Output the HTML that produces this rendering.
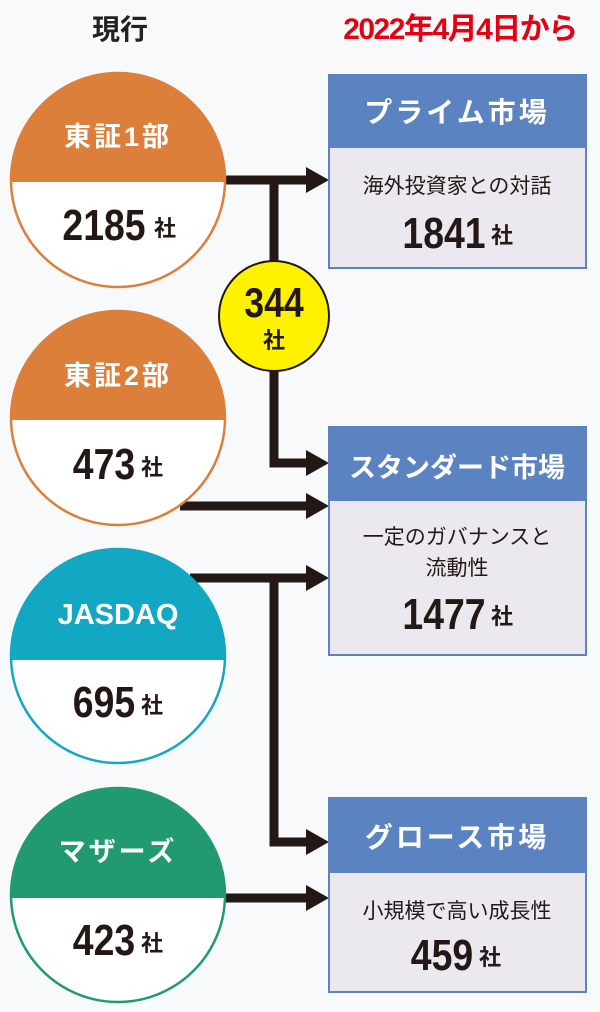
<!DOCTYPE html>
<html><head><meta charset="utf-8"><style>
html,body{margin:0;padding:0;background:#f8f9fb;}
svg{display:block;}
text{font-family:"Liberation Sans","Noto Sans CJK JP",sans-serif;}
</style></head><body>
<svg width="600" height="1012" viewBox="0 0 600 1012" xmlns="http://www.w3.org/2000/svg">
<defs>
<clipPath id="c1"><circle cx="118" cy="180" r="108"/></clipPath>
<clipPath id="c2"><circle cx="118" cy="418" r="108"/></clipPath>
<clipPath id="c3"><circle cx="118" cy="656" r="108"/></clipPath>
<clipPath id="c4"><circle cx="118" cy="895" r="108"/></clipPath>
</defs>
<rect width="600" height="1012" fill="#f8f9fb"/>
<text x="120" y="39" font-size="28" font-weight="bold" fill="#222" text-anchor="middle">現行</text>
<text x="460" y="39" font-size="30" font-weight="bold" fill="#e50012" text-anchor="middle" letter-spacing="-1.5">2022年4月4日から</text>

<g fill="none" stroke="#231815" stroke-width="9">
<line x1="225" y1="180" x2="310" y2="180"/>
<line x1="274" y1="180" x2="274" y2="262"/>
<polyline points="274,370 274,463 310,463"/>
<line x1="180" y1="506" x2="310" y2="506"/>
<line x1="190" y1="578" x2="310" y2="578"/>
<polyline points="274,578 274,842 310,842"/>
<line x1="225" y1="898" x2="310" y2="898"/>
</g>
<g fill="#231815">
<polygon points="306,167 329,180 306,193"/>
<polygon points="306,450 329,463 306,476"/>
<polygon points="306,493 329,506 306,519"/>
<polygon points="306,565 329,578 306,591"/>
<polygon points="306,829 329,842 306,855"/>
<polygon points="306,885 329,898 306,911"/>
</g>

<g clip-path="url(#c1)"><rect x="0" y="60" width="240" height="122" fill="#dc7f3b"/><rect x="0" y="182" width="240" height="120" fill="#fff"/></g>
<circle cx="118" cy="180" r="107" fill="none" stroke="#dc7f3b" stroke-width="2.5"/>
<text x="118" y="146" font-size="27" font-weight="bold" fill="#fff" text-anchor="middle" letter-spacing="3">東証1部</text>
<text x="104" y="240" font-size="44" font-weight="bold" fill="#231815" text-anchor="middle" transform="translate(104 0) scale(0.85 1) translate(-104 0)">2185</text>
<text x="165" y="236" font-size="22" font-weight="bold" fill="#231815" text-anchor="middle">社</text>

<g clip-path="url(#c2)"><rect x="0" y="300" width="240" height="120" fill="#dc7f3b"/><rect x="0" y="420" width="240" height="120" fill="#fff"/></g>
<circle cx="118" cy="418" r="107" fill="none" stroke="#dc7f3b" stroke-width="2.5"/>
<text x="118" y="385" font-size="27" font-weight="bold" fill="#fff" text-anchor="middle" letter-spacing="3">東証2部</text>
<text x="104" y="479" font-size="44" font-weight="bold" fill="#231815" text-anchor="middle" transform="translate(104 0) scale(0.85 1) translate(-104 0)">473</text>
<text x="152" y="475" font-size="22" font-weight="bold" fill="#231815" text-anchor="middle">社</text>

<g clip-path="url(#c3)"><rect x="0" y="540" width="240" height="120" fill="#12a8c4"/><rect x="0" y="660" width="240" height="120" fill="#fff"/></g>
<circle cx="118" cy="656" r="107" fill="none" stroke="#12a8c4" stroke-width="2.5"/>
<text x="118" y="624" font-size="29" font-weight="bold" fill="#fff" text-anchor="middle">JASDAQ</text>
<text x="104" y="717" font-size="44" font-weight="bold" fill="#231815" text-anchor="middle" transform="translate(104 0) scale(0.85 1) translate(-104 0)">695</text>
<text x="152" y="713" font-size="22" font-weight="bold" fill="#231815" text-anchor="middle">社</text>

<g clip-path="url(#c4)"><rect x="0" y="780" width="240" height="118" fill="#219a6f"/><rect x="0" y="898" width="240" height="120" fill="#fff"/></g>
<circle cx="118" cy="895" r="107" fill="none" stroke="#219a6f" stroke-width="2.5"/>
<text x="118" y="861" font-size="27" font-weight="bold" fill="#fff" text-anchor="middle" letter-spacing="3">マザーズ</text>
<text x="104" y="955" font-size="44" font-weight="bold" fill="#231815" text-anchor="middle" transform="translate(104 0) scale(0.85 1) translate(-104 0)">423</text>
<text x="152" y="951" font-size="22" font-weight="bold" fill="#231815" text-anchor="middle">社</text>

<circle cx="274" cy="316" r="55" fill="#fff200" stroke="#231815" stroke-width="2"/>
<text x="274" y="317" font-size="42" font-weight="bold" fill="#231815" text-anchor="middle" transform="translate(274 0) scale(0.85 1) translate(-274 0)">344</text>
<text x="274" y="348" font-size="22" font-weight="bold" fill="#231815" text-anchor="middle">社</text>

<rect x="329" y="75" width="257" height="193" fill="#ece8f0" stroke="#5b83c2" stroke-width="2"/>
<rect x="328" y="75" width="259" height="73" fill="#5b83c2"/>
<text x="457" y="122" font-size="28" font-weight="bold" fill="#fff" text-anchor="middle" letter-spacing="3">プライム市場</text>
<text x="457" y="193" font-size="21" fill="#231815" text-anchor="middle">海外投資家との対話</text>
<text x="444" y="248" font-size="44" font-weight="bold" fill="#231815" text-anchor="middle" transform="translate(444 0) scale(0.85 1) translate(-444 0)">1841</text>
<text x="502" y="243" font-size="22" font-weight="bold" fill="#231815" text-anchor="middle">社</text>

<rect x="329" y="427" width="257" height="228" fill="#ece8f0" stroke="#5b83c2" stroke-width="2"/>
<rect x="328" y="427" width="259" height="74" fill="#5b83c2"/>
<text x="457" y="477" font-size="27" font-weight="bold" fill="#fff" text-anchor="middle">スタンダード市場</text>
<text x="457" y="544" font-size="21" fill="#231815" text-anchor="middle">一定のガバナンスと</text>
<text x="457" y="575" font-size="21" fill="#231815" text-anchor="middle">流動性</text>
<text x="444" y="629" font-size="44" font-weight="bold" fill="#231815" text-anchor="middle" transform="translate(444 0) scale(0.85 1) translate(-444 0)">1477</text>
<text x="502" y="624" font-size="22" font-weight="bold" fill="#231815" text-anchor="middle">社</text>

<rect x="329" y="798" width="257" height="194" fill="#ece8f0" stroke="#5b83c2" stroke-width="2"/>
<rect x="328" y="798" width="259" height="75" fill="#5b83c2"/>
<text x="457" y="847" font-size="28" font-weight="bold" fill="#fff" text-anchor="middle" letter-spacing="3">グロース市場</text>
<text x="457" y="918" font-size="21" fill="#231815" text-anchor="middle">小規模で高い成長性</text>
<text x="442" y="970" font-size="44" font-weight="bold" fill="#231815" text-anchor="middle" transform="translate(442 0) scale(0.85 1) translate(-442 0)">459</text>
<text x="490" y="965" font-size="22" font-weight="bold" fill="#231815" text-anchor="middle">社</text>
</svg>
</body></html>
